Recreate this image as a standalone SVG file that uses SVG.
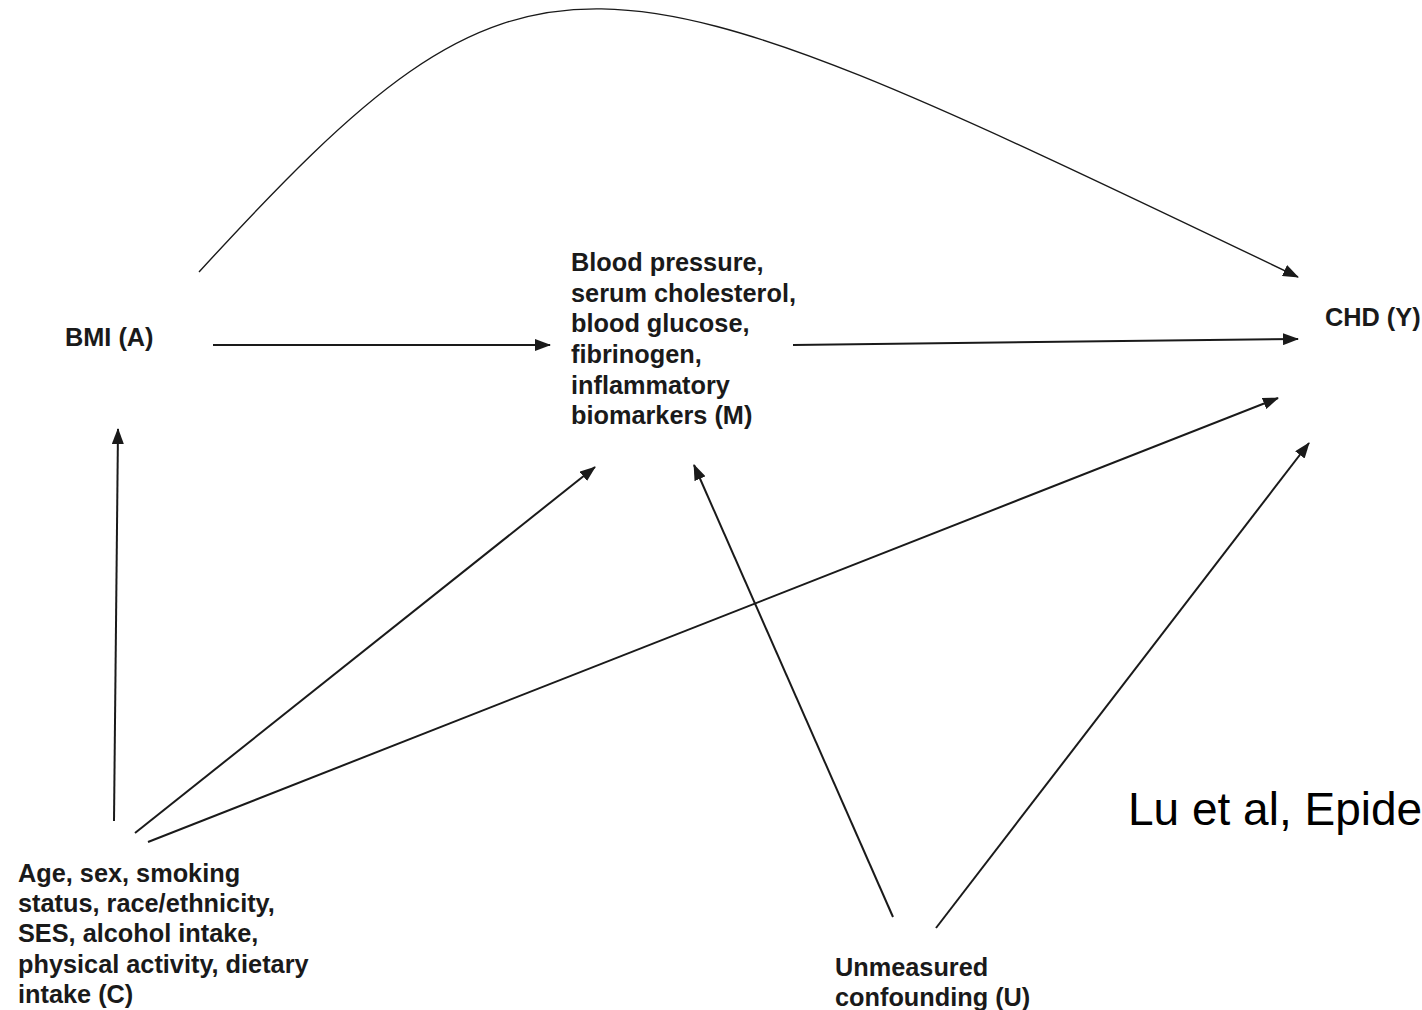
<svg xmlns="http://www.w3.org/2000/svg" width="1422" height="1010" viewBox="0 0 1422 1010">
  <style>
    .lbl { font-family: "Liberation Sans", Arial, sans-serif; font-weight: bold; font-size: 25.3px; fill: #1a1a1a; }
    .cite { font-family: "Liberation Sans", Arial, sans-serif; font-size: 46px; fill: #000; }
    .edge { fill: none; stroke: #1a1a1a; stroke-width: 2; marker-end: url(#arrow); }
    .edge.thin { stroke-width: 1.4; }
  </style>
  <defs>
    <marker id="arrow" markerUnits="userSpaceOnUse" markerWidth="16" markerHeight="12" refX="15" refY="6" orient="auto">
      <path d="M0,0 L16,6 L0,12 Z" fill="#1a1a1a"/>
    </marker>
  </defs>
  <rect width="1422" height="1010" fill="#fff"/>

  <g id="connectors">
    <!-- direct effect A -> Y -->
    <path class="edge thin" d="M199,272 C535,-95 585,-64 1298,277"/>
    <!-- A -> M -->
    <path class="edge" d="M213,345 L550,345"/>
    <!-- M -> Y -->
    <path class="edge" d="M793,345 L1298,339"/>
    <!-- C -> A -->
    <path class="edge" d="M114,821 L118,429"/>
    <!-- C -> M -->
    <path class="edge" d="M135,833 L595,467"/>
    <!-- C -> Y -->
    <path class="edge" d="M148,842 L1278,398"/>
    <!-- U -> M -->
    <path class="edge" d="M893,917 L694,465"/>
    <!-- U -> Y -->
    <path class="edge" d="M936,928 L1309,443"/>
  </g>

  <g id="node-A">
    <text class="lbl" x="65" y="346">BMI (A)</text>
  </g>

  <g id="node-M">
    <text class="lbl" x="571" y="271">Blood pressure,</text>
    <text class="lbl" x="571" y="302">serum cholesterol,</text>
    <text class="lbl" x="571" y="332">blood glucose,</text>
    <text class="lbl" x="571" y="363">fibrinogen,</text>
    <text class="lbl" x="571" y="394">inflammatory</text>
    <text class="lbl" x="571" y="424">biomarkers (M)</text>
  </g>

  <g id="node-Y">
    <text class="lbl" x="1325" y="326">CHD (Y)</text>
  </g>

  <g id="node-C">
    <text class="lbl" x="18" y="882">Age, sex, smoking</text>
    <text class="lbl" x="18" y="912">status, race/ethnicity,</text>
    <text class="lbl" x="18" y="942">SES, alcohol intake,</text>
    <text class="lbl" x="18" y="973">physical activity, dietary</text>
    <text class="lbl" x="18" y="1003">intake (C)</text>
  </g>

  <g id="node-U">
    <text class="lbl" x="835" y="976">Unmeasured</text>
    <text class="lbl" x="835" y="1006">confounding (U)</text>
  </g>

  <g id="citation">
    <text class="cite" x="1128" y="825">Lu et al, Epide</text>
  </g>
</svg>
